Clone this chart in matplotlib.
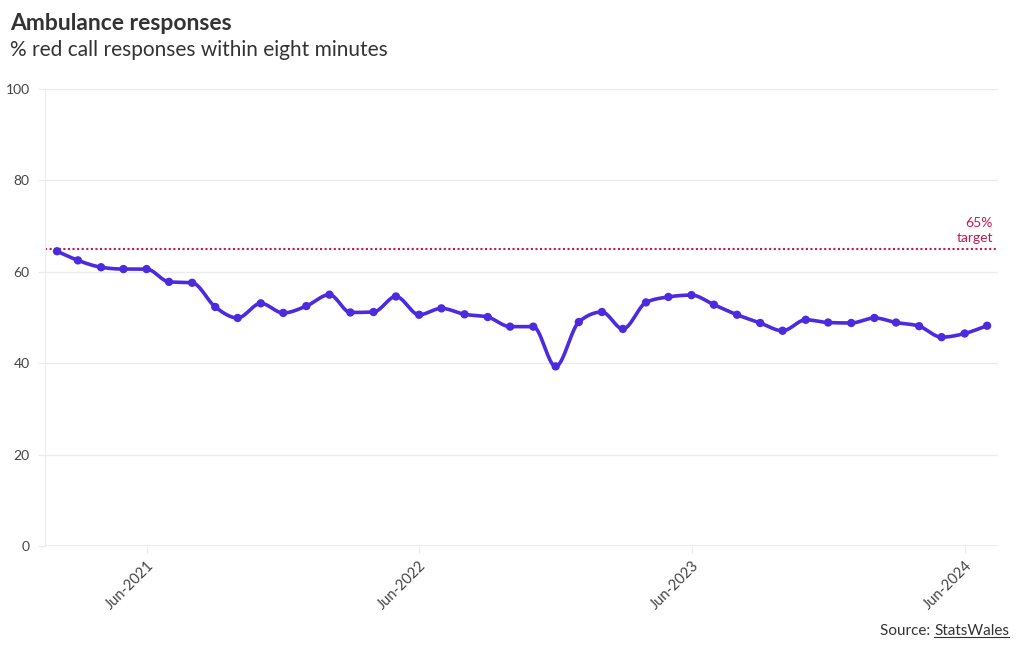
import numpy as np
import matplotlib.pyplot as plt
import matplotlib.dates as mdates

plt.rcParams['font.family'] = ['Lato', 'DejaVu Sans']

# monthly data Feb-2021 .. Jul-2024
months = ['2021-02', '2021-03', '2021-04', '2021-05', '2021-06', '2021-07', '2021-08',
          '2021-09', '2021-10', '2021-11', '2021-12', '2022-01', '2022-02', '2022-03',
          '2022-04', '2022-05', '2022-06', '2022-07', '2022-08', '2022-09', '2022-10',
          '2022-11', '2022-12', '2023-01', '2023-02', '2023-03', '2023-04', '2023-05',
          '2023-06', '2023-07', '2023-08', '2023-09', '2023-10', '2023-11', '2023-12',
          '2024-01', '2024-02', '2024-03', '2024-04', '2024-05', '2024-06', '2024-07']
pct_red = [64.5, 62.5, 61.0, 60.6, 60.6, 57.8, 57.6,
           52.3, 49.9, 53.1, 51.0, 52.5, 55.0, 51.1,
           51.2, 54.6, 50.6, 52.0, 50.7, 50.1, 48.0,
           48.0, 39.3, 49.0, 51.2, 47.5, 53.3, 54.5,
           54.9, 52.8, 50.6, 48.8, 47.1, 49.5, 48.9,
           48.8, 49.9, 48.9, 48.1, 45.7, 46.5, 48.2]
tick_months = ['2021-06', '2022-06', '2023-06', '2024-06']
tick_labels = ['Jun-2021', 'Jun-2022', 'Jun-2023', 'Jun-2024']
target = 65

LINE = '#4b2ae0'
RED = '#c9174f'
GRID = '#ebebeb'
TXT = '#333333'


def monotone(x, y, n=20):
    # monotone cubic (Fritsch-Carlson) like d3.curveMonotoneX
    x = np.asarray(x, float)
    y = np.asarray(y, float)
    h = np.diff(x)
    s = np.diff(y) / h
    m = np.zeros_like(y)
    for i in range(1, len(y) - 1):
        if s[i - 1] * s[i] <= 0:
            m[i] = 0
        else:
            p = (s[i - 1] * h[i] + s[i] * h[i - 1]) / (h[i - 1] + h[i])
            m[i] = np.sign(s[i - 1]) * min(abs(s[i - 1]), abs(s[i]), 0.5 * abs(p)) * 2
    m[0] = s[0]
    m[-1] = s[-1]
    xs, ys = [], []
    for i in range(len(h)):
        t = np.linspace(0, 1, n, endpoint=False)
        h00 = 2 * t**3 - 3 * t**2 + 1
        h10 = t**3 - 2 * t**2 + t
        h01 = -2 * t**3 + 3 * t**2
        h11 = t**3 - t**2
        xs.append(x[i] + t * h[i])
        ys.append(h00 * y[i] + h10 * h[i] * m[i] + h01 * y[i + 1] + h11 * h[i] * m[i + 1])
    xs.append([x[-1]])
    ys.append([y[-1]])
    return np.concatenate(xs), np.concatenate(ys)


dates = [np.datetime64(m + '-01') for m in months]
xnum = mdates.date2num(dates)
sx, sy = monotone(xnum, pct_red)

fig = plt.figure(figsize=(10.2, 6.5), dpi=100)
ax = fig.add_axes([45 / 1020, 1 - 546 / 650, (998 - 45) / 1020, (546 - 89) / 650])

step = (xnum[-1] - xnum[0]) / (len(xnum) - 1)
ax.set_xlim(xnum[0] - 0.53 * step, xnum[-1] + 0.48 * step)
ax.set_ylim(0, 100)

ax.set_yticks([0, 20, 40, 60, 80, 100])
ax.grid(axis='y', color=GRID, lw=1)
ax.set_axisbelow(True)
for s in ['top', 'right', 'bottom']:
    ax.spines[s].set_visible(False)
ax.spines['left'].set_color(GRID)
ax.axhline(0, color=GRID, lw=1.2, zorder=1)
ax.tick_params(axis='y', length=5, color=GRID, labelsize=10, labelcolor='#444444', pad=6)

tx = mdates.date2num([np.datetime64(m + '-01') for m in tick_months])
ax.set_xticks(tx)
ax.set_xticklabels(tick_labels, rotation=45, ha='right', rotation_mode='anchor')
ax.tick_params(axis='x', length=5, color=GRID, labelsize=10.5, labelcolor='#444444', pad=4)

ax.axhline(target, color=RED, lw=1.5, ls=(0, (1, 1.2)), zorder=2)
ax.text(xnum[-1] + 0.25 * step, target + 1.0, '65%\ntarget', color=RED, fontsize=10,
        ha='right', va='bottom', linespacing=1.3)

ax.plot(sx, sy, color=LINE, lw=2.6, zorder=3, solid_capstyle='round')
ax.scatter(xnum, pct_red, s=36, color=LINE, zorder=4, edgecolors='none')

fig.text(10 / 1020, 1 - 24 / 650, 'Ambulance responses', fontsize=16.5, fontweight='bold',
         color=TXT, va='center')
fig.text(10 / 1020, 1 - 50 / 650, '% red call responses within eight minutes', fontsize=15,
         color=TXT, va='center')

# source line, right aligned, with underlined link text
link = fig.text(1009 / 1020, 1 - 631 / 650, 'StatsWales', fontsize=11, color=TXT,
                ha='right', va='center')
fig.canvas.draw()
lb = link.get_window_extent()
fig.text(lb.x0 / 1020, 1 - 631 / 650, 'Source: ', fontsize=11, color=TXT, ha='right', va='center')
fig.add_artist(plt.Line2D([lb.x0 / 1020, lb.x1 / 1020], [(lb.y0 + 1) / 650] * 2,
                          color=TXT, lw=0.8))

fig.savefig('out.png', dpi=100, facecolor='white')
